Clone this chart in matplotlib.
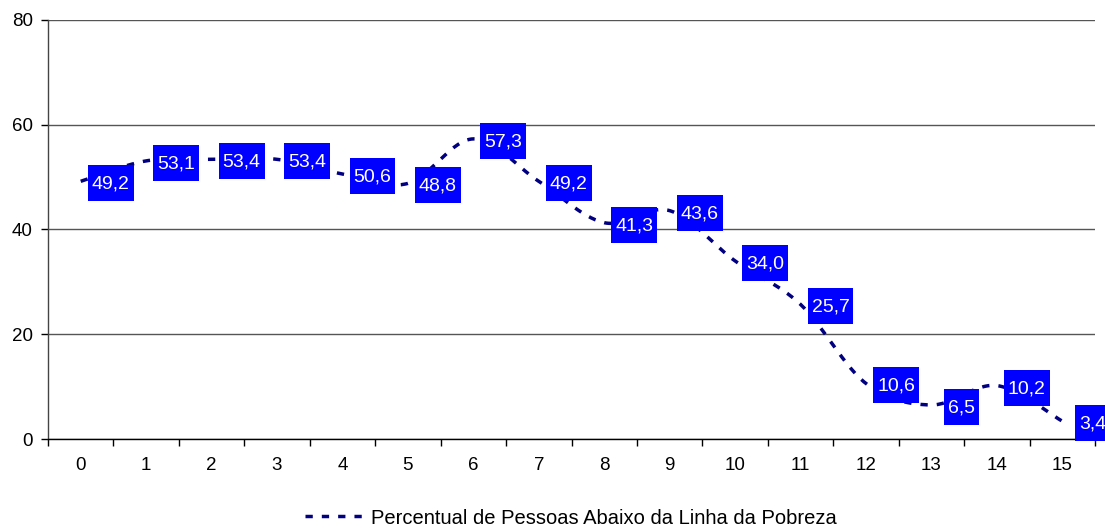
import numpy as np
import matplotlib
matplotlib.use("Agg")
import matplotlib.pyplot as plt
from matplotlib.ticker import FixedLocator, NullFormatter
from matplotlib.patches import Rectangle
from matplotlib.transforms import IdentityTransform

plt.rcParams['font.family'] = ['Liberation Sans', 'DejaVu Sans']

categories = list(range(16))
tick_labels = [str(c) for c in categories]
poverty_pct = [49.2, 53.1, 53.4, 53.4, 50.6, 48.8, 57.3, 49.2,
               41.3, 43.6, 34.0, 25.7, 10.6, 6.5, 10.2, 3.4]
series_name = "Percentual de Pessoas Abaixo da Linha da Pobreza"


def smooth_curve(x, y, steps=30):
    """Catmull-Rom style Bezier smoothing through every data point."""
    x = np.asarray(x, float)
    y = np.asarray(y, float)
    n = len(x)
    xs, ys = [], []
    for i in range(n - 1):
        p0 = np.array([x[max(i - 1, 0)], y[max(i - 1, 0)]])
        p1 = np.array([x[i], y[i]])
        p2 = np.array([x[i + 1], y[i + 1]])
        p3 = np.array([x[min(i + 2, n - 1)], y[min(i + 2, n - 1)]])
        c1 = p1 + (p2 - p0) / 6.0
        c2 = p2 - (p3 - p1) / 6.0
        t = np.linspace(0, 1, steps, endpoint=(i == n - 2))[:, None]
        pts = ((1 - t) ** 3) * p1 + 3 * ((1 - t) ** 2) * t * c1 \
            + 3 * (1 - t) * t ** 2 * c2 + t ** 3 * p2
        xs.append(pts[:, 0])
        ys.append(pts[:, 1])
    return np.concatenate(xs), np.concatenate(ys)


fig = plt.figure(figsize=(11.05, 5.30), dpi=100)
ax = fig.add_axes([48 / 1105, 91 / 530, 1047 / 1105, 419 / 530])

xs, ys = smooth_curve(categories, poverty_pct)
line, = ax.plot(xs, ys, color='#000080', lw=2.5, linestyle=(0, (2.1, 2.6)),
                zorder=3, label=series_name)

labels = []
for c, v in zip(categories, poverty_pct):
    t = ax.annotate(f"{v:.1f}".replace('.', ','), xy=(c, v),
                    xytext=(30, -3), textcoords='offset pixels',
                    ha='center', va='center', fontsize=14, color='white',
                    zorder=5, annotation_clip=False)
    labels.append(t)

ax.set_xlim(-0.5, 15.5)
ax.set_ylim(0, 80)
ax.set_yticks([0, 20, 40, 60, 80])
ax.yaxis.grid(True, color='#555555', lw=1.0)
ax.set_axisbelow(True)

ax.set_xticks(categories)
ax.set_xticklabels(tick_labels)
ax.xaxis.set_minor_locator(FixedLocator(np.arange(-0.5, 16, 1.0)))
ax.xaxis.set_minor_formatter(NullFormatter())
ax.tick_params(axis='x', which='major', length=0, pad=13, labelsize=13.5)
ax.tick_params(axis='x', which='minor', length=5, width=1, color='black')
ax.tick_params(axis='y', length=5, width=1, pad=6, labelsize=13.5)

for side in ('top', 'right'):
    ax.spines[side].set_visible(False)
for side in ('left', 'bottom'):
    ax.spines[side].set_color('black')
    ax.spines[side].set_linewidth(1.0)
ax.spines['left'].set_color('#444444')

fig.legend(handles=[line], loc='center', bbox_to_anchor=(571 / 1105, 12 / 530),
           frameon=False, fontsize=14.5, handlelength=2.85, handletextpad=0.4,
           borderpad=0, borderaxespad=0)

# Solid blue boxes behind the value labels, sized from the rendered text
fig.canvas.draw()
renderer = fig.canvas.get_renderer()
for t in labels:
    bb = t.get_window_extent(renderer)
    cx = (bb.x0 + bb.x1) / 2
    cy = (bb.y0 + bb.y1) / 2 + 1
    w = bb.width + 8
    h = 36
    ax.add_patch(Rectangle((cx - w / 2, cy - h / 2), w, h,
                           transform=IdentityTransform(), facecolor='#0000FF',
                           edgecolor='none', zorder=4, clip_on=False))

fig.savefig('out.png', dpi=100)
